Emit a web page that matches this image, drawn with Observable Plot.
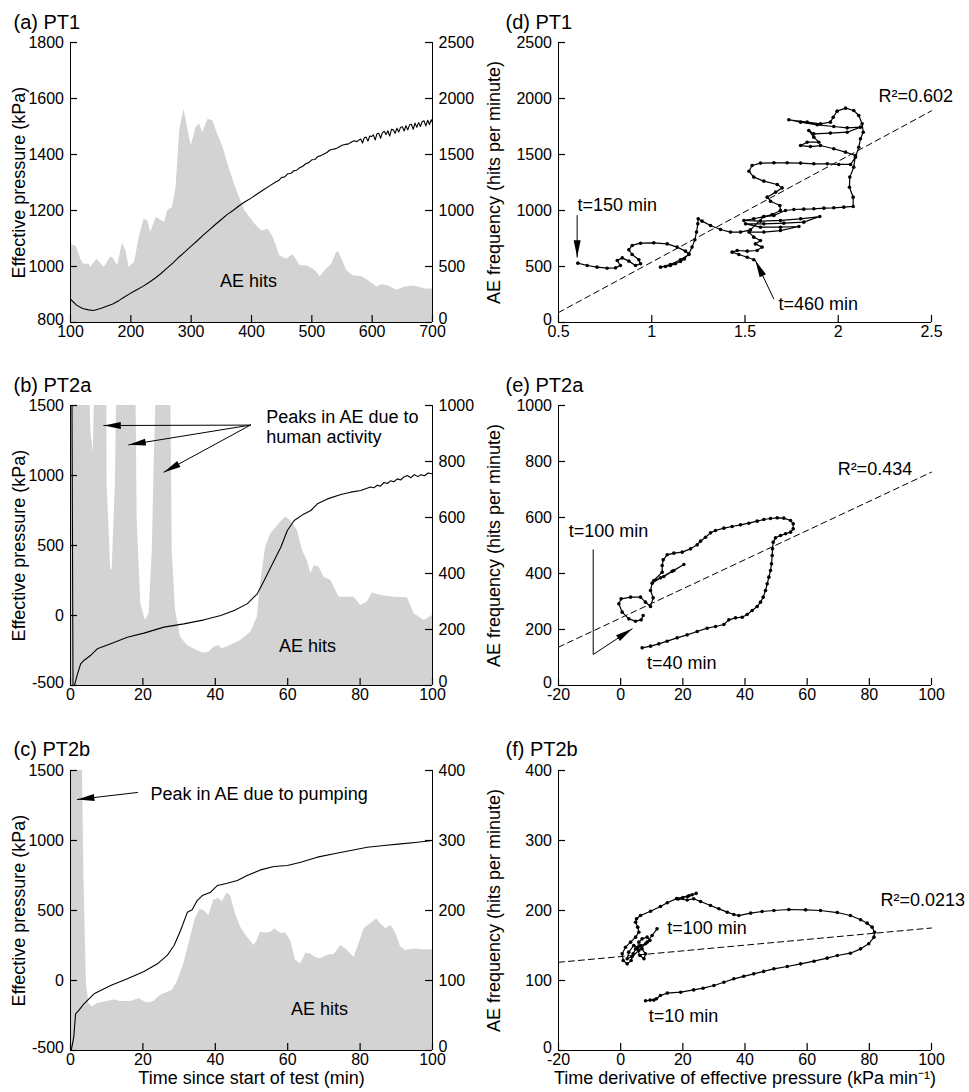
<!DOCTYPE html>
<html><head><meta charset="utf-8">
<script src="https://cdn.jsdelivr.net/npm/d3@7"></script>
<script src="https://cdn.jsdelivr.net/npm/@observablehq/plot@0.6"></script>
<style>
body{margin:0;background:#fff;}
#fig{position:relative;width:969px;height:1092px;background:#fff;font-family:'Liberation Sans',Arial,Helvetica,sans-serif;}
</style>
</head><body><div id="fig"></div>
<script>
// ---------------- DATA ----------------
// (a) PT1
const aTimeAE = [100,110,117,122,131,133,144,156,167,172,178,186,192,197,206,214,222,228,233,242,247,256,261,269,275,281,288,294,300,308,314,319,328,336,344,353,361,369,378,389,406,417,428,436,447,458,469,481,492,506,514,522,533,541,544,550,558,569,583,594,608,616,627,641,652,666,677,688,700];
const aHits = [699,676,565,521,521,491,565,491,586,565,506,705,640,491,536,759,922,908,803,937,922,893,997,1027,1205,1711,1905,1741,1577,1741,1771,1696,1815,1800,1681,1562,1414,1280,1146,997,878,818,833,759,595,565,604,506,506,461,408,461,521,625,634,565,461,417,408,372,318,336,327,289,312,327,318,298,298];
const aTimeP = [100,110,120,130,138,150,160,170,180,190,200,210,220,230,240,250,260,270,280,290,300,310,320,330,340,350,360,370,380,390,400,410,420,430,440,
  445,450,455,460,465,470,475,480,485,490,495,500,505,510,515,520,525,530,535,540,545,550,555,560,565,570,575,
  578,581,584,587,590,593,596,599,602,605,608,611,614,617,620,623,626,629,632,635,638,641,644,647,650,653,656,659,662,665,668,671,674,677,680,683,686,689,692,695,698,700];
const aPressure = [883,862,850,845,843,850,858,866,878,892,905,917,929,943,958,975,994,1013,1034,1053,1073,1092,1112,1131,1150,1168,1186,1201,1218,1232,1245,1260,1274,1288,1302,
  1307,1318,1320,1331,1332,1342,1344,1353,1358,1367,1371,1381,1382,1393,1396,1402,1407,1416,1419,1421,1427,1433,1436,1437,1444,1449,1446,
  1452,1455,1441,1460,1462,1448,1466,1464,1470,1452,1474,1476,1458,1478,1483,1471,1485,1466,1490,1488,1476,1494,1480,1497,1499,1484,1503,1488,1506,1508,1490,1512,1497,1514,1500,1518,1520,1502,1522,1507,1524,1514];

// (b) PT2a
const bTimeAE = [0,5.1,5.6,6.3,6.9,10.0,10.1,11.1,11.5,12.4,12.9,18.0,18.4,19.4,20.7,21.7,22.6,23.2,24.0,27.6,28.1,29.0,30.4,32.3,35.0,36.9,38.2,39.6,41.0,41.9,44.2,47.0,49.8,51.6,52.5,53.9,55.3,57.6,59.4,60.8,62.7,64.1,65.4,66.4,67.3,68.7,70.0,71.9,73.3,74.2,78.3,80.2,82.0,83.4,85.7,89.4,93.1,94.9,97.7,100];
const bHits = [1200,1200,910,833,1200,1200,720,417,411,720,1200,1200,601,292,232,256,482,839,1200,1200,482,268,173,143,125,115,119,137,143,131,143,161,190,244,363,494,541,577,601,589,553,482,446,399,428,422,387,375,339,315,315,286,298,330,321,315,313,256,232,250];
const bTimeP = [0.4,0.7,1.1,1.8,2.8,3.7,5.5,7.4,11.1,15.7,20.3,25.8,31.3,36.9,41.5,45.2,48.8,51.6,53.5,55.8,58.1,59.9,61.8,64.1,66.4,68.2,71.0,74.7,77.4,80.2,81.5,82.9,83.8,84.7,85.6,86.6,87.5,88.4,89.3,90.3,91.2,92.1,93.1,94.0,95.0,96.0,96.8,97.8,98.8,100];
const bPressure = [1600,-560,-500,-429,-345,-321,-286,-238,-202,-155,-126,-83,-60,-31,0,36,83,155,250,369,488,607,679,719,750,798,833,864,881,893,905,918,912,930,924,950,943,962,955,976,968,990,1000,984,1006,992,1006,998,1018,1012];

// (c) PT2b
const cTimeAE = [0,3.2,3.7,4.4,5.1,6.0,7.4,9.2,12.0,13.8,16.6,18.9,21.2,23.0,24.9,26.7,28.1,29.5,31.3,33.2,34.6,35.8,36.9,38.2,39.6,41.0,41.9,43.3,44.2,45.6,47.0,48.8,50.7,51.6,52.5,53.9,55.3,56.4,58.1,59.4,60.8,62.2,63.6,65.0,66.4,67.7,69.1,71.0,72.8,74.7,76.5,78.3,79.7,81.1,82.9,84.6,85.7,87.1,88.5,89.9,91.2,92.6,94.9,97.2,100];
const cHits = [450,450,248,95,67,62,67,69,72,70,70,74,68,70,79,83,86,98,124,162,190,201,200,193,215,217,212,225,221,195,176,162,150,157,169,168,169,174,167,168,157,129,124,139,138,133,131,136,137,150,143,133,152,174,181,188,181,174,179,167,148,143,145,144,144];
const cTimeP = [0.2,0.9,1.4,2.3,3.7,6.5,11.1,15.7,20.3,24.0,26.7,28.6,30.4,32.3,33.6,35.0,36.4,38.7,40.6,43.3,46.1,48.8,52.5,56.2,59.9,63.6,68.2,72.8,77.4,82.0,86.6,91.2,95.9,100];
const cPressure = [-500,-405,-238,-214,-167,-95,-36,12,64,119,179,250,357,488,505,571,607,631,679,695,714,750,790,814,821,845,881,905,929,952,964,976,988,1000];

// (d) PT1 trajectory: dP/dt (kPa/min) vs AE frequency
const dRate = [0.604,0.654,0.707,0.761,0.806,0.832,0.815,0.842,0.877,0.913,0.940,0.931,0.895,0.877,0.895,0.940,1.011,1.083,1.136,1.181,1.199,1.154,1.100,1.047,1.074,1.100,1.127,1.154,1.175,1.199,1.216,1.231,1.240,1.247,1.249,1.270,1.315,1.369,1.422,1.476,1.529,1.601,1.646,1.690,1.687,1.637,1.619,1.664,1.699,1.673,1.601,1.547,1.521,1.538,1.583,1.655,1.726,1.798,1.869,1.941,2.003,2.066,2.092,2.110,2.119,2.134,2.128,2.110,2.083,2.039,1.994,1.973,1.958,1.905,1.833,1.735,1.798,1.887,1.976,2.048,2.119,2.048,1.958,1.869,1.842,1.869,1.896,1.833,1.798,1.851,1.905,1.976,2.039,2.092,2.083,2.062,2.060,2.080,2.080,2.030,1.976,1.923,1.869,1.815,1.762,1.717,1.655,1.601,1.547,1.494,1.583,1.690,1.798,1.901,1.815,1.708,1.601,1.503,1.583,1.690,1.789,1.690,1.601,1.521,1.547,1.583,1.556,1.592,1.565,1.512,1.458,1.431,1.467,1.512,1.547];
const dFreq = [530,509,494,485,488,509,554,577,548,509,524,560,607,649,688,708,711,702,673,637,607,560,518,494,500,509,524,545,568,613,673,738,807,881,926,905,866,830,807,807,827,946,964,1000,1045,1083,1119,1164,1202,1232,1262,1298,1351,1402,1423,1426,1426,1423,1417,1417,1411,1411,1476,1565,1640,1699,1774,1848,1893,1914,1887,1833,1789,1774,1789,1810,1789,1765,1750,1738,1744,1699,1691,1685,1714,1655,1610,1610,1580,1571,1580,1551,1521,1491,1387,1298,1208,1119,1036,1030,1024,1021,1015,1012,1009,1000,955,946,926,911,905,911,926,946,896,887,881,881,851,851,857,821,807,807,762,732,702,673,643,637,643,628,607,583,560];
const dFitX = [0.5, 2.5];
const dFitY = [89, 1890];

// (e) PT2a trajectory
const eRate = [6.92,9.60,12.28,14.96,18.18,21.40,24.62,27.83,30.52,33.20,34.81,36.95,39.10,40.70,42.31,43.92,44.99,45.85,46.60,47.14,47.68,48.21,48.53,48.75,48.86,49.07,49.82,51.43,53.04,54.65,55.51,55.51,54.65,52.50,50.36,48.21,46.07,43.92,41.24,38.56,35.88,33.20,30.52,28.91,27.30,25.69,24.62,22.47,19.79,17.11,14.96,13.68,13.36,13.36,10.67,13.89,17.11,20.33,16.57,12.82,10.14,9.60,10.46,9.60,7.99,6.38,3.17,0.16,-0.59,0.49,2.63,4.78,6.60,7.24];
const eFreq = [134.5,140.5,148.8,158.3,170.2,180.9,192.8,204.7,210.7,217.9,234.5,241.6,244.0,253.6,267.8,282.1,297.6,315.5,339.3,363.1,386.9,410.7,434.5,464.3,488.1,511.9,527.4,535.7,541.7,547.6,559.5,577.4,589.3,597.6,598.8,596.4,592.8,586.9,579.7,573.8,567.8,561.9,553.6,545.2,529.7,515.5,502.4,488.1,476.2,472.6,466.7,448.8,428.6,404.7,375.0,389.3,410.7,432.1,408.3,384.5,365.5,339.3,313.1,282.1,297.6,315.5,315.5,309.5,291.7,261.9,238.1,229.7,234.5,250.0];
const eFitX = [-20, 100];
const eFitY = [137, 762];

// (f) PT2b trajectory
const fRate = [8.0,9.5,10.7,11.5,12.8,15.0,19.3,23.5,26.5,30.0,33.2,36.4,39.6,42.8,46.0,49.3,53.6,57.9,62.2,66.4,69.7,73.9,77.2,79.8,81.5,81.7,80.9,79.3,77.2,73.9,69.7,64.3,59.5,54.1,49.3,45.5,41.8,38.0,36.4,34.3,31.6,28.9,25.7,23.5,21.4,18.5,20.0,21.5,23.0,24.3,22.0,18.0,15.0,12.8,9.6,6.4,5.1,4.8,5.5,5.85,4.8,3.2,1.56,0.49,0.81,2.1,3.38,4.0,4.8,6.4,8.0,9.4,8.5,6.9,5.85,5.3,6.2,7.5,8.0,6.9,4.2,2.6,2.1,3.7,5.85,8.5,10.1,11.7];
const fFreq = [71,72,72,74,78.6,82,83.3,86.6,89,92.9,97.5,102.4,106,109.5,113,116.7,120,123.8,127.6,131.9,135.7,139,145.2,152.4,161.9,169,176.2,181.9,186.7,192.8,197.1,200,200.9,201.4,200,198.6,196.2,192.8,194.3,197.6,202.4,207.1,212.9,216.7,215,216.5,218.5,220,222.5,224.5,221,217,211,205.7,199,192.9,188.1,183.3,176.2,169.0,161.9,154.8,147.6,138.1,128.6,123.8,128.6,138.1,145.2,150,152.4,157.1,161.9,159.5,154.8,145.2,135.7,131,138.1,145.2,150,140.5,131,134.3,142.9,154.8,164.3,173.8];
const fFitX = [-20, 100];
const fFitY = [126, 175];

// Tick values
const aTicksX = [100,200,300,400,500,600,700];
const aTicksY = [800,1000,1200,1400,1600,1800];
const aTicksR = [0,500,1000,1500,2000,2500];
const bcTicksX = [0,20,40,60,80,100];
const bcTicksY = [-500,0,500,1000,1500];
const bTicksR = [0,200,400,600,800,1000];
const cTicksR = [0,100,200,300,400];
const dTicksX = [0.5,1,1.5,2,2.5];
const dTicksY = [0,500,1000,1500,2000,2500];
const efTicksX = [-20,0,20,40,60,80,100];
const eTicksY = [0,200,400,600,800,1000];
const fTicksY = [0,100,200,300,400];

// Text
const titles = ["(a) PT1","(b) PT2a","(c) PT2b","(d) PT1","(e) PT2a","(f) PT2b"];
const leftLabel = "Effective pressure (kPa)";
const rightLabel = "AE frequency (hits per minute)";
const leftXLabel = "Time since start of test (min)";
const rightXLabel = "Time derivative of effective pressure (kPa min\u207B\u00B9)";

// ---------------- RENDERING ----------------
const FONT = "'Liberation Sans', Arial, Helvetica, sans-serif";
const GREY = "#d3d3d3";
const TICK = 7;
const zip = (xs, ys) => xs.map((x, i) => ({x, y: ys[i]}));
const headSymbol = {draw(ctx) { ctx.moveTo(0, 0); ctx.lineTo(-3.5, 17); ctx.lineTo(3.5, 17); ctx.closePath(); }};

const rows = [{top: 0, H: 350, mt: 42, mb: 28, tdy: -20}, {top: 350, H: 360, mt: 55, mb: 25, tdy: -20}, {top: 710, H: 382, mt: 60, mb: 42, tdy: -21}];
const cols = [{left: 0, W: 480, ml: 70, mr: 48, tdx: -57, ydx: -51}, {left: 480, W: 489, ml: 78, mr: 38, tdx: -53, ydx: -64}];
const panel = (r, c, xd, yd) => ({...rows[r], ...cols[c], xd, yd});

function arrows(p, list) {
  const marks = [];
  const kx = (p.W - p.ml - p.mr) / (p.xd[1] - p.xd[0]);
  const ky = (p.H - p.mt - p.mb) / (p.yd[1] - p.yd[0]);
  for (const a of list) {
    marks.push(Plot.line(a.map(([x, y]) => ({x, y})), {x: "x", y: "y", stroke: "black", strokeWidth: 1}));
    const [x1, y1] = a[a.length - 2], [x2, y2] = a[a.length - 1];
    const rot = Math.atan2((x2 - x1) * kx, (y2 - y1) * ky) * 180 / Math.PI;
    marks.push(Plot.dot([{x: x2, y: y2}], {x: "x", y: "y", symbol: headSymbol, r: 5, fill: "black", stroke: "none", rotate: rot}));
  }
  return marks;
}

function axes(p, xt, yt, right) {
  const pw = p.W - p.ml - p.mr, ph = p.H - p.mt - p.mb;
  const tx = TICK * (p.xd[1] - p.xd[0]) / pw;   // tick length in x data units
  const ty = TICK * (p.yd[1] - p.yd[0]) / ph;   // tick length in y data units
  const m = [
    Plot.ruleX([p.xd[0]], {stroke: "black", strokeWidth: 1}),
    Plot.ruleY([p.yd[0]], {stroke: "black", strokeWidth: 1}),
    // inward tick marks
    Plot.ruleX(xt, {x: d => d, y1: p.yd[0], y2: p.yd[0] + ty, stroke: "black", strokeWidth: 1.2}),
    Plot.ruleY(yt, {y: d => d, x1: p.xd[0], x2: p.xd[0] + tx, stroke: "black", strokeWidth: 1.2}),
    // tick labels
    Plot.axisX({ticks: xt, tickSize: 0, tickPadding: 3, tickFormat: d => String(d), fontSize: 16, label: null}),
    Plot.axisY({ticks: yt.slice(1), tickSize: 0, tickPadding: 6.5, tickFormat: d => String(d), fontSize: 16, label: null}),
    // lowest left label nudged up, clear of the x tick labels
    Plot.text([yt[0]], {y: d => d, frameAnchor: "left", dx: -6.5, dy: -3, textAnchor: "end", lineAnchor: "middle", fontSize: 16, text: d => String(d)})
  ];
  if (right) {
    const rt = right.ticks.map(right.toP);
    m.push(Plot.ruleX([p.xd[1]], {stroke: "black", strokeWidth: 1}));
    m.push(Plot.ruleY(rt, {y: d => d, x1: p.xd[1] - tx, x2: p.xd[1], stroke: "black", strokeWidth: 1.2}));
    m.push(Plot.axisY({anchor: "right", ticks: rt.slice(1), tickSize: 0, tickPadding: 6, tickFormat: d => String(Math.round(right.fromP(d))), fontSize: 16, label: null}));
    m.push(Plot.text([rt[0]], {y: d => d, frameAnchor: "right", dx: 6, dy: -4, textAnchor: "start", lineAnchor: "middle", fontSize: 16, text: () => String(right.ticks[0])}));
  }
  return m;
}

function labels(p, title, ylab, xlab) {
  const m = [
    Plot.text([title], {frameAnchor: "top-left", dx: p.tdx, dy: p.tdy, textAnchor: "start", lineAnchor: "middle", fontSize: 20, text: d => d}),
    Plot.text([ylab], {frameAnchor: "left", dx: p.ydx, rotate: -90, textAnchor: "middle", lineAnchor: "middle", fontSize: 18, text: d => d})
  ];
  if (xlab) m.push(Plot.text([xlab], {frameAnchor: "bottom", dy: 28, textAnchor: "middle", lineAnchor: "middle", fontSize: 18, text: d => d}));
  return m;
}

function note(x, y, s, anchor = "start") {
  return Plot.text([{x, y, s}], {x: "x", y: "y", text: "s", textAnchor: anchor, lineAnchor: "middle", fontSize: 18, lineHeight: 1.1});
}

function draw(p, marks) {
  const svg = Plot.plot({
    width: p.W, height: p.H,
    marginTop: p.mt, marginBottom: p.mb, marginLeft: p.ml, marginRight: p.mr,
    x: {domain: p.xd}, y: {domain: p.yd},
    marks
  });
  svg.style.position = "absolute";
  svg.style.left = p.left + "px";
  svg.style.top = p.top + "px";
  svg.style.background = "transparent";
  svg.style.fontFamily = FONT;
  svg.style.color = "black";
  svg.style.overflow = "visible";
  document.getElementById("fig").appendChild(svg);
}

function dualPanel(p, tAE, hits, tP, pres, hitsMax, rightTicks, xt, yt, title, xlab, extra) {
  const toP = v => p.yd[0] + v / hitsMax * (p.yd[1] - p.yd[0]);
  const fromP = y => (y - p.yd[0]) / (p.yd[1] - p.yd[0]) * hitsMax;
  draw(p, [
    Plot.areaY(zip(tAE, hits), {x: "x", y1: p.yd[0], y2: d => toP(d.y), fill: GREY, clip: true}),
    Plot.line(zip(tP, pres), {x: "x", y: "y", stroke: "black", strokeWidth: 1.1, clip: true}),
    ...axes(p, xt, yt, {ticks: rightTicks, toP, fromP}),
    ...labels(p, title, leftLabel, xlab),
    ...extra
  ]);
}

function trajPanel(p, xs, ys, fx, fy, xt, yt, title, xlab, extra) {
  const pts = zip(xs, ys);
  draw(p, [
    Plot.line(zip(fx, fy), {x: "x", y: "y", stroke: "black", strokeWidth: 1, strokeDasharray: "6,4"}),
    Plot.line(pts, {x: "x", y: "y", stroke: "black", strokeWidth: 1.2}),
    Plot.dot(pts, {x: "x", y: "y", r: 1.8, fill: "black", stroke: "none"}),
    ...axes(p, xt, yt, null),
    ...labels(p, title, rightLabel, xlab),
    ...extra
  ]);
}

// (a)
const pa = panel(0, 0, [100, 700], [800, 1800]);
dualPanel(pa, aTimeAE, aHits, aTimeP, aPressure, 2500, aTicksR, aTicksX, aTicksY, titles[0], null,
  [note(395, 950, "AE hits", "middle")]);

// (b)
const pb = panel(1, 0, [0, 100], [-500, 1500]);
dualPanel(pb, bTimeAE, bHits, bTimeP, bPressure, 1000, bTicksR, bcTicksX, bcTicksY, titles[1], null, [
  note(65.5, -214, "AE hits", "middle"),
  note(54.1, 1346, "Peaks in AE due to\nhuman activity"),
  ...arrows(pb, [[[49.7, 1360], [9.2, 1357]], [[49.7, 1360], [16.1, 1219]], [[49.7, 1360], [25.8, 1024]]])
]);

// (c)
const pc = panel(2, 0, [0, 100], [-500, 1500]);
dualPanel(pc, cTimeAE, cHits, cTimeP, cPressure, 400, cTicksR, bcTicksX, bcTicksY, titles[2], leftXLabel, [
  note(68.8, -200, "AE hits", "middle"),
  note(22.1, 1336, "Peak in AE due to pumping"),
  ...arrows(pc, [[[18.5, 1343], [1.9, 1293]]])
]);

// (d)
const pd = panel(0, 1, [0.5, 2.5], [0, 2500]);
trajPanel(pd, dRate, dFreq, dFitX, dFitY, dTicksX, dTicksY, titles[3], null, [
  note(2.216, 2027, "R\u00B2=0.602"),
  note(0.602, 1054, "t=150 min"),
  note(1.680, 170, "t=460 min"),
  ...arrows(pd, [[[0.600, 955], [0.600, 583]], [[1.654, 212], [1.556, 554]]])
]);

// (e)
const pe = panel(1, 1, [-20, 100], [0, 1000]);
trajPanel(pe, eRate, eFreq, eFitX, eFitY, efTicksX, eTicksY, titles[4], null, [
  note(69.8, 775, "R\u00B2=0.434"),
  note(-16.7, 554, "t=100 min"),
  note(8.5, 83, "t=40 min"),
  ...arrows(pe, [[[-8.84, 484.5], [-8.84, 110.7], [3.71, 202.5]]])
]);

// (f)
const pf = panel(2, 1, [-20, 100], [0, 400]);
trajPanel(pf, fRate, fFreq, fFitX, fFitY, efTicksX, fTicksY, titles[5], rightXLabel, [
  note(83.6, 216, "R\u00B2=0.0213"),
  note(15.0, 176, "t=100 min"),
  note(9.05, 50, "t=10 min")
]);
</script>
</body></html>
